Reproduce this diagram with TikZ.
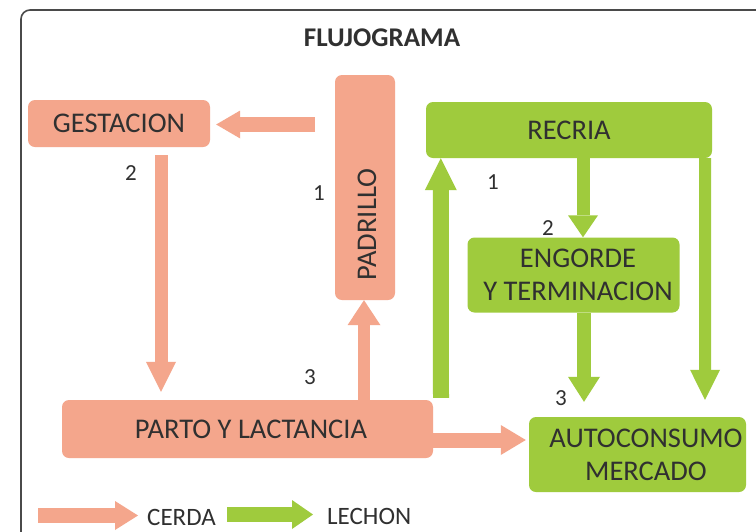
\documentclass[tikz,border=0pt]{standalone}
\usepackage{fontspec}
\setmainfont{Carlito}
\usetikzlibrary{arrows.meta,calc}
\definecolor{salmon}{HTML}{F4A68C}
\definecolor{lime}{HTML}{9FCB3D}
\definecolor{txt}{HTML}{303030}
\definecolor{frame}{HTML}{4A4A4A}
\tikzset{
  box/.style={rounded corners=7pt, fill=#1, draw=none, text=txt, inner sep=0pt,
    font=\fontsize{28.5}{33}\selectfont, align=center},
  num/.style={text=txt, font=\fontsize{23}{27}\selectfont, inner sep=0pt},
  leg/.style={text=txt, font=\fontsize{25}{29}\selectfont, inner sep=0pt, anchor=base west, text depth=0pt},
  blk/.style n args={4}{draw=#1, line width=#2pt,
    -{Triangle[width=#3pt,length=#4pt,line width=0pt]}},
}
\begin{document}
\begin{tikzpicture}[x=1pt,y=-1pt]
\useasboundingbox (0,0) rectangle (756,531);
\clip (0,0) rectangle (756,531);
\fill[white] (0,0) rectangle (756,531);
\draw[frame, line width=1.6pt, rounded corners=9pt] (21,10) rectangle (790,550);

\node[text=txt, font=\bfseries\fontsize{27}{31}\selectfont, inner sep=0pt] (title) at (382,38) {FLUJOGRAMA};

% pink boxes
\node[box=salmon, minimum width=182pt, minimum height=47pt] (gest) at (119,123.5) {GESTACION};
\node[box=salmon, minimum width=60pt, minimum height=225pt] (padrillo) at (365,187.5) {};
\node[text=txt, font=\fontsize{28.5}{33}\selectfont, inner sep=0pt, rotate=90] (padtext) at ($(padrillo.center)+(2,37)$) {PADRILLO};
\node[box=salmon, minimum width=371pt, minimum height=58pt] (parto) at (247.5,429) {\hspace*{7pt}PARTO Y LACTANCIA};

% green boxes
\node[box=lime, minimum width=212pt, minimum height=75pt] (engorde) at (573.5,275) {\hspace*{9pt}ENGORDE\\\hspace*{9pt}Y TERMINACION};
\node[box=lime, minimum width=286pt, minimum height=56pt] (recria) at (569,130) {RECRIA};
\node[box=lime, minimum width=217pt, minimum height=75pt] (auto) at (637.5,454.5) {\hspace*{17pt}AUTOCONSUMO\\\hspace*{17pt}MERCADO};

% pink arrows
\draw[blk={salmon}{15}{28}{24}] ($(gest.east)+(105,1)$) -- ($(gest.east)+(6,1)$);
\draw[blk={salmon}{13}{30}{30}] ($(gest.south)+(42,8)$) -- ($(parto.north)+(-86.5,-8)$);
\draw[blk={salmon}{12}{33}{25}] ($(parto.north)+(116.5,0)$) -- ($(padrillo.south)+(-1,0)$);
\draw[blk={salmon}{15}{30}{25}] ($(parto.east)+(0,11)$) -- ($(auto.west)+(-3,-14.5)$);

% green arrows
\draw[blk={lime}{16}{32}{32}] ($(parto.north)+(193.5,-2)$) -- ($(recria.south west)+(15,0)$);
\draw[blk={lime}{13}{30}{22}] ($(recria.south)+(14,0)$) -- ($(engorde.north)+(9.5,0)$);
\draw[blk={lime}{14}{32}{25}] ($(engorde.south)+(10.5,0)$) -- ($(auto.north)+(-53.5,-15)$);
\draw[blk={lime}{12}{30}{30}] ($(recria.south east)+(-7,0)$) -- ($(auto.north)+(67.5,-17)$);

% numbers
\node[num] (n1p) at (319,193) {1};
\node[num] (n2p) at (131,173) {2};
\node[num] (n3p) at (310,377) {3};
\node[num] (n1g) at (493,182) {1};
\node[num] (n2g) at (548,228) {2};
\node[num] (n3g) at (561,398) {3};

% legend
\coordinate (lp1) at (38,515.5);
\coordinate (lp2) at (138,515.5);
\coordinate (lg1) at (227,514.5);
\coordinate (lg2) at (313,514.5);
\draw[blk={salmon}{15}{29}{23}] (lp1) -- (lp2);
\draw[blk={lime}{15}{29}{21}] (lg1) -- (lg2);
\node[leg] (cerda) at (147,525) {CERDA};
\node[leg] (lechon) at (327,524) {LECHON};
\end{tikzpicture}
\end{document}
